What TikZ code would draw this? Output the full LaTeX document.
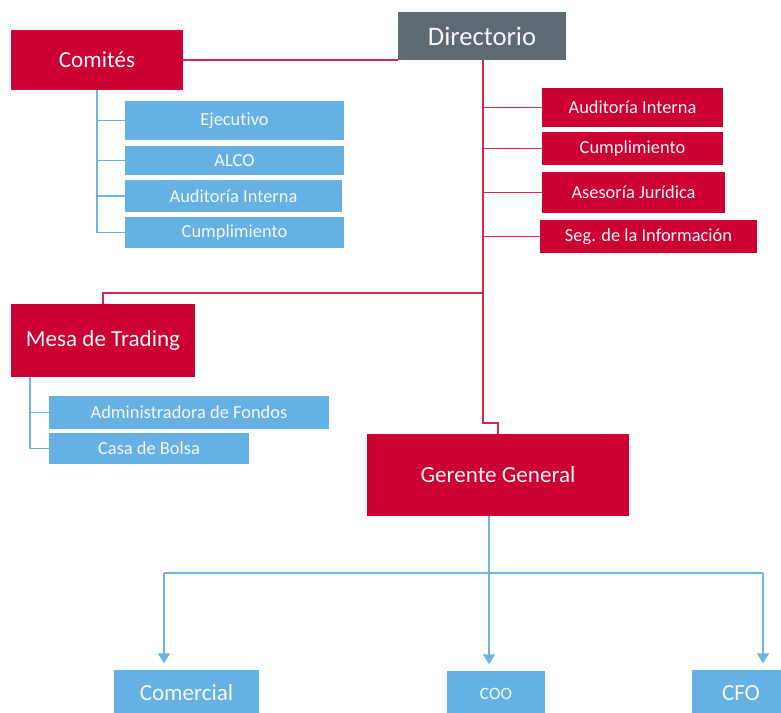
\documentclass[tikz,border=0pt]{standalone}
\usepackage{fontspec}
\setmainfont{Carlito}[Ligatures=NoCommon]
\usepackage{tikz}
\usetikzlibrary{arrows.meta}

\definecolor{boxred}{RGB}{204,0,51}
\definecolor{boxgray}{RGB}{94,106,113}
\definecolor{boxblue}{RGB}{101,177,227}
\definecolor{linered}{RGB}{212,40,80}
\definecolor{lineblue}{RGB}{108,180,228}

\begin{document}
\begin{tikzpicture}[x=0.75pt,y=-0.75pt,
  box/.style={inner sep=0pt, outer sep=0pt, text=white!94!gray, align=center},
  redbox/.style={box, fill=boxred},
  bluebox/.style={box, fill=boxblue},
  big/.style={font=\fontsize{17.3}{20}\selectfont},
  small/.style={font=\fontsize{13.8}{16}\selectfont},
  redline/.style={draw=linered, line width=1.4pt},
  blueline/.style={draw=lineblue, line width=1.3pt},
  arr/.style={blueline, -{Triangle[width=9pt,length=7.5pt]}, shorten >=5pt}]

\useasboundingbox (0,0) rectangle (781,713);

\node(dir)[box, fill=boxgray, minimum width=126pt, minimum height=36pt, font=\fontsize{20}{24}\selectfont] at (482,36) {Directorio};

\node(com)[redbox, big, minimum width=129pt, minimum height=45pt] at (97,60) {Comités};
\node(ejec)[bluebox, small, minimum width=164.25pt, minimum height=29.25pt] at (234.5,120.5) {Ejecutivo};
\node(alco)[bluebox, small, minimum width=164.25pt, minimum height=21.75pt] at (234.5,160.5) {ALCO};
\node(audc)[bluebox, small, minimum width=162.75pt, minimum height=24pt] at (233.5,196) {Auditoría Interna};
\node(cumc)[bluebox, small, minimum width=164.25pt, minimum height=23.25pt] at (234.5,232.5) {Cumplimiento};

\node(audd)[redbox, small, minimum width=135.75pt, minimum height=29.25pt] at (632.5,107.5) {Auditoría Interna};
\node(cumd)[redbox, small, minimum width=135.75pt, minimum height=24.75pt] at (632.5,148.5) {Cumplimiento};
\node(ases)[redbox, small, minimum width=137.25pt, minimum height=30.75pt] at (633.5,192.5) {Asesoría Jurídica};
\node(segi)[redbox, small, minimum width=162.75pt, minimum height=24.75pt] at (648.5,236.5) {Seg. de la Información};

\node(mesa)[redbox, big, minimum width=138pt, minimum height=54.75pt] at (103,340.5) {Mesa de Trading};
\node(admf)[bluebox, small, minimum width=210pt, minimum height=24.75pt] at (189,412.5) {Administradora de Fondos};
\node(casa)[bluebox, small, minimum width=150pt, minimum height=23.25pt] at (149,448.5) {Casa de Bolsa};

\node(ger)[redbox, big, minimum width=196.5pt, minimum height=61.5pt] at (498,475) {Gerente General};

\node(comer)[bluebox, big, minimum width=108.75pt, minimum height=34.5pt] at (186.5,693) {Comercial};
\node(coo)[bluebox, font=\fontsize{13}{15}\selectfont, minimum width=73.5pt, minimum height=34.5pt] at (496,694) {COO};
\node(cfo)[bluebox, big, minimum width=73.5pt, minimum height=34.5pt] at (741,693) {CFO};

% red connectors
\draw[redline] (com.east) -- (com.east -| dir.west);
\coordinate(trunk) at (483,60);
\coordinate(jog) at (483,423);
\coordinate(tb) at (483,293);
\draw[redline] (trunk) -- (jog) -| (ger.north);
\draw[redline] (tb) -| (mesa.north);
\foreach \n in {audd,cumd,ases,segi}
  \draw[redline] (trunk |- \n) -- (\n.west);

% blue connectors
\draw[blueline] (com.south) |- (cumc.west);
\foreach \n in {ejec,alco,audc}
  \draw[blueline] (com.south |- \n) -- (\n.west);

\coordinate(ms) at (30,377);
\draw[blueline] (ms) |- (casa.west);
\draw[blueline] (ms |- admf) -- (admf.west);

\coordinate(gs) at (489,516);
\coordinate(bl) at (164,573);
\coordinate(br) at (763,573);
\draw[blueline] (bl) -- (br);
\draw[arr] (gs) -- (gs |- coo.north);
\draw[arr] (bl) -- (bl |- comer.north);
\draw[arr] (br) -- (br |- cfo.north);

\end{tikzpicture}
\end{document}
